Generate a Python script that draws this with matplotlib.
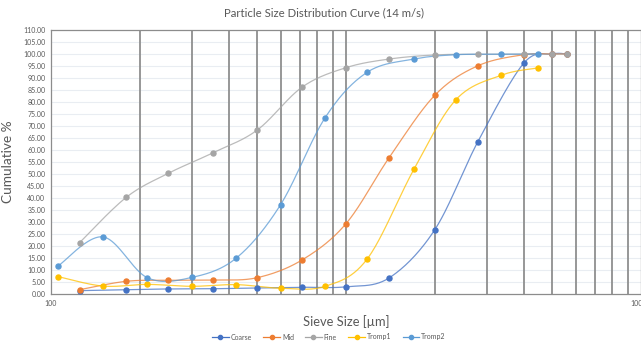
""" Cumulative particle size distribution for the 14 m/s run """

import numpy as np
import matplotlib.pyplot as plt
from matplotlib.lines import Line2D

# Sieve apertures (um) and cumulative passing (%)
sieves = [125, 180, 250, 355, 500, 710, 1000, 1400, 2000, 2800, 4000, 5000, 5600]
coarse = [1.4, 1.8, 2.1, 2.2, 2.5, 2.8, 3.0, 6.7, 26.8, 63.5, 96.1, 100.0, 100.0]
mid = [1.8, 5.3, 5.7, 5.8, 6.8, 14.2, 29.3, 56.8, 82.8, 95.1, 99.7, 100.0, 100.0]
fine = [21.4, 40.3, 50.3, 58.9, 68.3, 86.2, 94.3, 97.9, 99.6, 99.9, 99.9, 100.0, 100.0]

# Tromp curves use the geometric mean of each sieve interval
tromp_sizes = [106, 150, 212, 300, 425, 600, 850, 1180, 1700, 2360, 3350, 4470]
tromp1 = [7.2, 3.3, 4.0, 3.2, 3.9, 2.4, 3.2, 14.6, 52.0, 81.0, 91.1, 94.2]
tromp2 = [11.8, 23.8, 6.8, 6.9, 15.0, 37.2, 73.5, 92.4, 97.9, 99.7, 99.9, 100.0]

series = [
    ("Coarse", sieves, coarse, "#4472C4"),
    ("Mid", sieves, mid, "#ED7D31"),
    ("Fine", sieves, fine, "#A5A5A5"),
    ("Tromp1", tromp_sizes, tromp1, "#FFC000"),
    ("Tromp2", tromp_sizes, tromp2, "#5B9BD5"),
]

FONT = "Lato"
TEXT = "#595959"


def smooth(xs, ys, n=40):
    """ Catmull-Rom style bezier through the points, in log-x space. """
    pts = np.column_stack([np.log10(xs), np.asarray(ys, dtype=float)])
    padded = np.vstack([pts[0], pts, pts[-1]])
    t = np.linspace(0, 1, n)[:, None]
    segs = []
    for i in range(len(pts) - 1):
        p0, p1, p2, p3 = padded[i:i + 4]
        c1 = p1 + (p2 - p0) / 6
        c2 = p2 - (p3 - p1) / 6
        seg = ((1 - t) ** 3) * p1 + 3 * ((1 - t) ** 2) * t * c1 \
            + 3 * (1 - t) * t ** 2 * c2 + t ** 3 * p2
        segs.append(seg)
    curve = np.vstack(segs)
    return 10 ** curve[:, 0], curve[:, 1]


fig = plt.figure(figsize=(6.41, 3.49), dpi=100)
ax = fig.add_axes([51 / 641, 1 - 294 / 349, 590 / 641, 264 / 349])

ax.set_xscale("log")
ax.set_xlim(100, 10000)
ax.set_ylim(0, 110)

# Light horizontal gridlines every 5 %
for y in np.arange(5, 110, 5):
    ax.axhline(y, color="#e9edf2", lw=0.8, zorder=0)

# Sieve gridlines
for decade in (100, 1000):
    for k in range(2, 11):
        v = decade * k
        if v < 10000:
            ax.axvline(v, color="#8f8f8f", lw=1.3, zorder=1)

handles = []
for name, xs, ys, color in series:
    sx, sy = smooth(xs, ys)
    ax.plot(sx, sy, color=color, lw=0.9, alpha=0.75, zorder=3)
    ax.plot(xs, ys, "o", color=color, ms=3.6, mec=color, zorder=4)
    handles.append(Line2D([], [], color=color, lw=0.9, marker="o", ms=3, label=name))

ax.set_yticks(np.arange(0, 111, 5))
ax.set_yticklabels(["%.2f" % v for v in np.arange(0, 111, 5)])
ax.set_xticks([100, 10000])
ax.set_xticklabels(["100", "10000"])
ax.minorticks_off()
ax.tick_params(axis="both", length=0, labelsize=5, labelcolor=TEXT, pad=4)
for lbl in ax.get_xticklabels() + ax.get_yticklabels():
    lbl.set_fontfamily(FONT)

for side in ("left", "top", "right", "bottom"):
    ax.spines[side].set_color("#8c8c8c")
    ax.spines[side].set_linewidth(0.9)

fig.text(0.505, 1 - 13 / 349, "Particle Size Distribution Curve (14 m/s)",
         ha="center", va="center", fontsize=8.2, color=TEXT, family=FONT)
ax.set_xlabel("Sieve Size [µm]", fontsize=9.3, color=TEXT, family=FONT, labelpad=6)
ax.set_ylabel("Cumulative %", fontsize=9.8, color=TEXT, family=FONT)
ax.yaxis.set_label_coords(-37 / 590, 0.5)

fig.legend(handles=handles, loc="center", bbox_to_anchor=(0.513, 1 - 337 / 349),
           ncol=5, frameon=False, fontsize=5, handlelength=2.4, columnspacing=1.6,
           handletextpad=0.3, labelcolor=TEXT, prop={"family": FONT, "size": 5})

fig.savefig("out.png", dpi=100)
